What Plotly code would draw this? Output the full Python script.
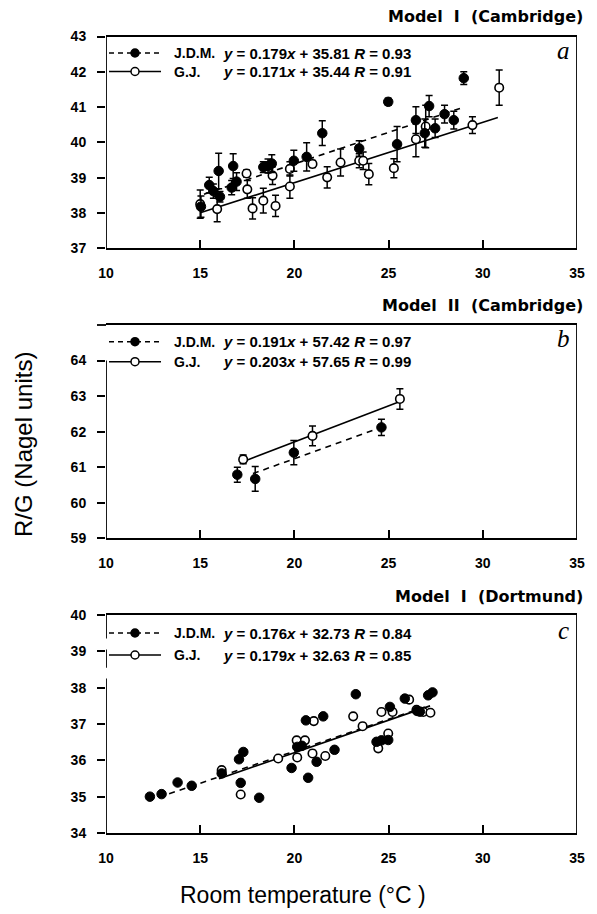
import plotly.graph_objects as go

# ---------------- data ----------------
# Panel a: Model I (Cambridge)
a_jdm_x = [15.04, 15.48, 15.70, 15.98, 16.05, 16.67, 16.75, 16.93, 18.35, 18.60, 18.80, 19.97,
           20.65, 21.48, 23.44, 24.98, 25.45, 26.45, 26.92, 27.15, 27.47, 27.97, 28.46, 28.99]
a_jdm_y = [38.18, 38.79, 38.62, 39.19, 38.46, 38.72, 39.33, 38.89, 39.30, 39.33, 39.40, 39.48,
           39.59, 40.26, 39.83, 41.15, 39.95, 40.63, 40.26, 41.03, 40.40, 40.80, 40.63, 41.82]
a_jdm_e = [0.30, 0.22, 0.20, 0.50, 0.15, 0.20, 0.35, 0.25, 0.15, 0.20, 0.25, 0.30,
           0.40, 0.35, 0.22, 0.10, 0.50, 0.38, 0.40, 0.30, 0.26, 0.25, 0.25, 0.18]
a_gj_x = [15.00, 15.90, 17.46, 17.50, 17.78, 18.35, 18.84, 19.00, 19.76, 19.76, 20.96,
          21.74, 22.45, 23.44, 23.65, 23.95, 25.28, 26.45, 26.97, 29.45, 30.87]
a_gj_y = [38.25, 38.11, 39.12, 38.67, 38.13, 38.35, 39.06, 38.20, 38.75, 39.25, 39.39,
          39.01, 39.43, 39.48, 39.48, 39.10, 39.27, 40.09, 40.45, 40.49, 41.55]
a_gj_e = [0.40, 0.36, 0.10, 0.25, 0.30, 0.35, 0.25, 0.30, 0.33, 0.20, 0.10,
          0.30, 0.38, 0.20, 0.25, 0.30, 0.27, 0.50, 0.60, 0.24, 0.50]

# Panel b: Model II (Cambridge)
b_jdm_x = [16.97, 17.92, 19.97, 24.62]
b_jdm_y = [60.79, 60.67, 61.41, 62.12]
b_jdm_e = [0.21, 0.35, 0.34, 0.23]
b_gj_x = [17.28, 20.96, 25.60]
b_gj_y = [61.22, 61.88, 62.92]
b_gj_e = [0.12, 0.28, 0.29]

# Panel c: Model I (Dortmund)
c_jdm_x = [12.33, 12.95, 13.80, 14.55, 16.14, 17.06, 17.29, 17.15, 18.13, 19.85, 20.15, 20.40,
           20.73, 20.61, 21.53, 21.18, 22.13, 23.26, 24.36, 24.62, 24.98, 25.07, 25.86, 26.51,
           26.66, 27.10, 27.33]
c_jdm_y = [35.00, 35.07, 35.39, 35.30, 35.64, 36.03, 36.23, 35.38, 34.97, 35.79, 36.37, 36.40,
           35.52, 37.10, 37.21, 35.96, 36.29, 37.82, 36.51, 36.55, 36.56, 37.47, 37.70, 37.36,
           37.34, 37.79, 37.87]
c_gj_x = [16.14, 17.15, 19.14, 20.12, 20.56, 20.15, 20.96, 21.03, 21.64, 23.12, 23.62, 24.45,
          24.98, 24.62, 25.21, 26.09, 26.48, 26.84, 27.22]
c_gj_y = [35.73, 35.06, 36.05, 36.55, 36.55, 36.08, 36.19, 37.08, 36.12, 37.21, 36.94, 36.33,
          36.74, 37.33, 37.33, 37.67, 37.39, 37.33, 37.31]

# Regression fits (from legend text) and their drawn x-extent
fit_slope = {"a": (0.179, 0.171), "b": (0.191, 0.203), "c": (0.176, 0.179)}
fit_icpt = {"a": (35.81, 35.44), "b": (57.42, 57.65), "c": (32.73, 32.63)}
fit_r = {"a": (0.93, 0.91), "b": (0.97, 0.99), "c": (0.84, 0.85)}
fit_xext = {"a": ((15.2, 28.9), (15.0, 30.8)),
            "b": ((17.8, 24.4), (17.3, 25.5)),
            "c": ((12.8, 27.1), (16.0, 27.2))}

panel_titles = {"a": "Model  I  (Cambridge)", "b": "Model  II  (Cambridge)", "c": "Model  I  (Dortmund)"}
y_ranges = {"a": (37, 43), "b": (59, 65), "c": (34, 40)}
y_ticks = {"a": [37, 38, 39, 40, 41, 42, 43], "b": [59, 60, 61, 62, 63, 64], "c": [34, 35, 36, 37, 38, 39, 40]}
x_ticks = [10, 15, 20, 25, 30, 35]
x_range = (10, 35)

# ---------------- layout geometry ----------------
W, H = 597, 914
ML, MR, MT, MB = 106, 20, 36, 81
PW = W - ML - MR
PH = H - MT - MB


def px(x):
    return (x - ML) / PW


def py(y):
    return 1 - (y - MT) / PH


panel_pix = {"a": (36.5, 248.3), "b": (325.0, 538.3), "c": (615.0, 833.0)}
legend_rows = {"a": (53.0, 71.5), "b": (341.7, 361.7), "c": (633.0, 655.0)}
title_y = {"a": 16.0, "b": 306.0, "c": 596.0}
left_axis_segments = {"a": [(37, 43)], "b": [(59, 64)], "c": [(34, 38.25), (38.55, 39.05), (39.35, 40)]}

FONT = "Liberation Sans, Arial, Helvetica, sans-serif"
TFONT = "DejaVu Sans, Liberation Sans, Arial, sans-serif"
fig = go.Figure()
shapes = []
annotations = []

names = ["a", "b", "c"]
data = {
    "a": (a_jdm_x, a_jdm_y, a_jdm_e, a_gj_x, a_gj_y, a_gj_e),
    "b": (b_jdm_x, b_jdm_y, b_jdm_e, b_gj_x, b_gj_y, b_gj_e),
    "c": (c_jdm_x, c_jdm_y, None, c_gj_x, c_gj_y, None),
}

for i, p in enumerate(names):
    sfx = "" if i == 0 else str(i + 1)
    xa, ya = "x" + sfx, "y" + sfx
    jx, jy, je, gx, gy, ge = data[p]
    (s_j, s_g), (i_j, i_g) = fit_slope[p], fit_icpt[p]
    (xj0, xj1), (xg0, xg1) = fit_xext[p]

    # regression lines
    fig.add_trace(go.Scatter(x=[xg0, xg1], y=[s_g * xg0 + i_g, s_g * xg1 + i_g], mode="lines",
                             line=dict(color="black", width=1.6), xaxis=xa, yaxis=ya,
                             showlegend=False, hoverinfo="skip"))
    fig.add_trace(go.Scatter(x=[xj0, xj1], y=[s_j * xj0 + i_j, s_j * xj1 + i_j], mode="lines",
                             line=dict(color="black", width=1.6, dash="6px,5px"), xaxis=xa, yaxis=ya,
                             showlegend=False, hoverinfo="skip"))
    # G.J. open points
    err_g = dict(type="data", array=ge, color="black", thickness=1.5, width=3.5) if ge else None
    fig.add_trace(go.Scatter(x=gx, y=gy, mode="markers", name="G.J.", error_y=err_g,
                             marker=dict(symbol="circle", size=8.5, color="white",
                                         line=dict(color="black", width=1.6)),
                             xaxis=xa, yaxis=ya, showlegend=False))
    # J.D.M. filled points
    err_j = dict(type="data", array=je, color="black", thickness=1.5, width=3.5) if je else None
    fig.add_trace(go.Scatter(x=jx, y=jy, mode="markers", name="J.D.M.", error_y=err_j,
                             marker=dict(symbol="circle", size=9.5, color="black",
                                         line=dict(color="black", width=1)),
                             xaxis=xa, yaxis=ya, showlegend=False))

    top, bot = panel_pix[p]
    y0, y1 = y_ranges[p]
    fig.update_layout(**{
        "xaxis" + sfx: dict(domain=[0, 1], range=list(x_range), anchor=ya, tickvals=x_ticks,
                            ticks="inside", ticklen=8, tickwidth=1.5, tickcolor="black",
                            showline=True, mirror=True, linecolor="black", linewidth=1.8,
                            showgrid=False, zeroline=False, ticklabelstandoff=11,
                            ticklabeloverflow="allow",
                            tickfont=dict(family=FONT, size=14, color="black", weight="bold")),
        "yaxis" + sfx: dict(domain=[py(bot), py(top)], range=[y0, y1], anchor=xa,
                            tickvals=y_ticks[p], ticks="outside", ticklen=8, tickwidth=1.5,
                            tickcolor="black", showline=False, showgrid=False, zeroline=False,
                            ticklabelstandoff=8, ticklabeloverflow="allow",
                            tickfont=dict(family=FONT, size=14, color="black", weight="bold")),
    })

    # frame: left axis segments and right border
    for (s0, s1) in left_axis_segments[p]:
        shapes.append(dict(type="line", xref=xa, yref=ya, x0=x_range[0], x1=x_range[0], y0=s0, y1=s1,
                           line=dict(color="black", width=1.8)))
    shapes.append(dict(type="line", xref=xa, yref=ya, x0=x_range[1], x1=x_range[1], y0=y0, y1=y1,
                       line=dict(color="black", width=1.8)))
    if p == "b":
        shapes.append(dict(type="line", xref="paper", yref="paper", x0=px(97), x1=px(106),
                           y0=py(top), y1=py(top), line=dict(color="black", width=1.8)))

    # legend rows (manual)
    r1, r2 = legend_rows[p]
    for (ry, dash, fill, nm, s, ic, r) in [
        (r1, "5px,4px", "black", "J.D.M.", s_j, i_j, fit_r[p][0]),
        (r2, "solid", "white", "G.J.", s_g, i_g, fit_r[p][1]),
    ]:
        shapes.append(dict(type="line", xref="paper", yref="paper", x0=px(109), x1=px(161),
                           y0=py(ry), y1=py(ry), line=dict(color="black", width=1.4, dash=dash)))
        shapes.append(dict(type="circle", xref="paper", yref="paper", xsizemode="pixel",
                           ysizemode="pixel", xanchor=px(135), yanchor=py(ry),
                           x0=-4, x1=4, y0=-4, y1=4, fillcolor=fill,
                           line=dict(color="black", width=1.5)))
        annotations.append(dict(xref="paper", yref="paper", x=px(172), y=py(ry), xanchor="left",
                                yanchor="middle", showarrow=False, text="<b>%s</b>" % nm,
                                font=dict(family=FONT, size=14, color="black")))
        annotations.append(dict(xref="paper", yref="paper", x=px(221), y=py(ry), xanchor="left",
                                yanchor="middle", showarrow=False,
                                text="<b><i>y</i> = %.3f<i>x</i> + %.2f <i>R</i> = %.2f</b>" % (s, ic, r),
                                font=dict(family=FONT, size=15, color="black")))
    # panel letter
    annotations.append(dict(xref="paper", yref="paper", x=px(563), y=py(r1 - 3), xanchor="center",
                            yanchor="middle", showarrow=False, text="<i>%s</i>" % p,
                            font=dict(family="Liberation Serif, Times New Roman, serif", size=25,
                                      color="black")))
    # panel title
    annotations.append(dict(xref="paper", yref="paper", x=px(585), y=py(title_y[p]), xanchor="right",
                            yanchor="middle", showarrow=False, text="<b>%s</b>" % panel_titles[p],
                            font=dict(family=TFONT, size=16, color="black")))

# axis titles
annotations.append(dict(xref="paper", yref="paper", x=px(303), y=py(895), xanchor="center",
                        yanchor="middle", showarrow=False, text="Room temperature (°C )",
                        font=dict(family=FONT, size=23, color="black")))
annotations.append(dict(xref="paper", yref="paper", x=px(23), y=py(445), xanchor="center",
                        yanchor="middle", showarrow=False, text="R/G (Nagel units)", textangle=-90,
                        font=dict(family=FONT, size=24, color="black")))

fig.update_layout(width=W, height=H, margin=dict(l=ML, r=MR, t=MT, b=MB, autoexpand=False),
                  paper_bgcolor="white", plot_bgcolor="white", showlegend=False,
                  shapes=shapes, annotations=annotations)

fig.write_html("out.html", config={"displayModeBar": False},
               post_script="document.body.style.margin='0';document.body.style.overflow='hidden';")
